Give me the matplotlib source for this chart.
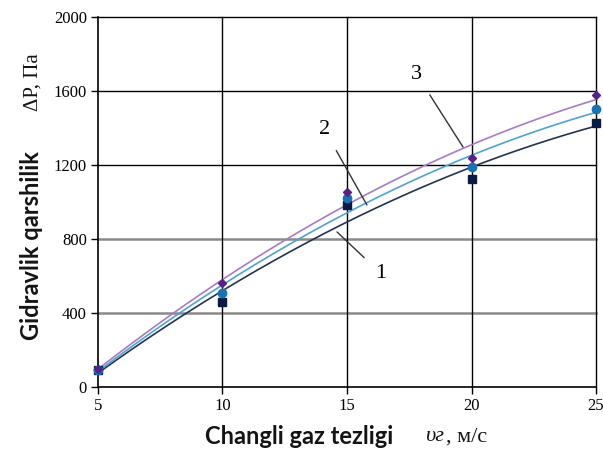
import numpy as np
import matplotlib
matplotlib.use("Agg")
import matplotlib.pyplot as plt

# data
speed = [5, 10, 15, 20, 25]
curve1 = [90, 460, 985, 1125, 1427]    # squares
curve2 = [92, 510, 1020, 1190, 1503]   # circles
curve3 = [95, 560, 1055, 1237, 1578]   # diamonds
yticks = [0, 400, 800, 1200, 1600, 2000]
xticks = [5, 10, 15, 20, 25]

fig = plt.figure(figsize=(6.03, 4.55), dpi=100)
ax = fig.add_axes([0.1625, 0.1495, 0.8259, 0.8131])

ax.set_xlim(5, 25)
ax.set_ylim(0, 2000)

# gridlines
for y in yticks[1:]:
    c = '#8a8a8a' if y in (400, 800) else '#000000'
    lw = 1.8 if y in (400, 800) else 1.0
    ax.axhline(y, color=c, lw=lw, zorder=1, clip_on=False)
for x in xticks[1:]:
    ax.axvline(x, color='black', lw=1.0, zorder=1, clip_on=False)

xs = np.linspace(5, 25, 200)
series = [
    (curve1, '#24344f', '#0b1a45', 's', 6),
    (curve2, '#4fa3d1', '#1872b8', 'o', 6),
    (curve3, '#a77cc4', '#5b1f8a', 'D', 4.5),
]
for vals, lc, mc, mk, ms in series:
    p = np.polyfit(speed, vals, 2)
    ax.plot(xs, np.polyval(p, xs), color=lc, lw=1.2, zorder=3)
    ax.plot(speed, vals, linestyle='none', marker=mk, color=mc, ms=ms, zorder=4, clip_on=False)

for s in ['top', 'right']:
    ax.spines[s].set_visible(False)
ax.spines['left'].set_linewidth(1.2)
ax.spines['bottom'].set_linewidth(1.2)

ax.set_xticks(xticks)
ax.set_yticks(yticks)
ax.tick_params(direction='out', length=5, width=1, labelsize=12, pad=3)
for lab in ax.get_xticklabels() + ax.get_yticklabels():
    lab.set_family('Liberation Serif')

# annotations
ax.annotate('3', xy=(19.66, 1297), xytext=(17.8, 1690), fontsize=16,
            family='Liberation Serif', ha='center', va='center',
            arrowprops=dict(arrowstyle='-', color='#333333', lw=1.0, shrinkA=7, shrinkB=0))
ax.annotate('2', xy=(15.8, 984), xytext=(14.1, 1390), fontsize=16,
            family='Liberation Serif', ha='center', va='center',
            arrowprops=dict(arrowstyle='-', color='#333333', lw=1.0, shrinkA=7, shrinkB=0))
ax.annotate('1', xy=(14.6, 838), xytext=(16.35, 615), fontsize=16,
            family='Liberation Serif', ha='center', va='center',
            arrowprops=dict(arrowstyle='-', color='#333333', lw=1.0, shrinkA=8, shrinkB=0))

# axis labels
fig.text(0.052, 0.46, 'Gidravlik qarshilik', rotation=90, ha='center', va='center',
         fontsize=17, fontweight='bold', family='Lato', color='#141414')
fig.text(0.055, 0.82, 'ΔP, Па', rotation=90, ha='center', va='center',
         fontsize=15, family='Liberation Serif', color='#141414')
fig.text(0.496, 0.04, 'Changli gaz tezligi', ha='center', va='center',
         fontsize=17, fontweight='bold', family='Lato', color='#141414')
fig.text(0.705, 0.04, 'υг', ha='left', va='center', style='italic',
         fontsize=16, family='Liberation Serif', color='#141414')
fig.text(0.739, 0.04, ', м/с', ha='left', va='center',
         fontsize=16, family='Liberation Serif', color='#141414')

fig.savefig('out.png', dpi=100)
